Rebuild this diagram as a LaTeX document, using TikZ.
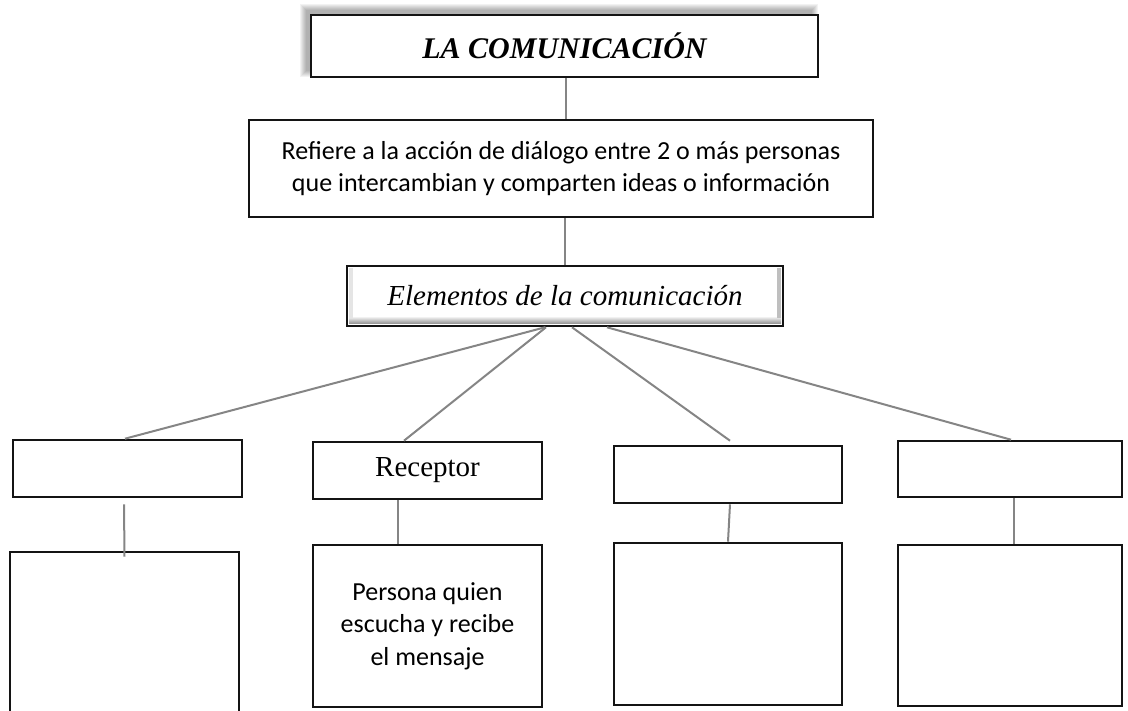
\documentclass[tikz,border=0pt]{standalone}
\usepackage{fontspec}
\setmainfont{Liberation Serif}
\newfontfamily\calfont{Carlito}
\begin{document}
\begin{tikzpicture}[x=1pt,y=-1pt,
    box/.style={draw=black!92, line width=2.6pt, inner sep=0pt, align=center},
    link/.style={draw=black!48, line width=2pt},
    sans/.style={font=\calfont\fontsize{26}{32.5}\selectfont}]
  \useasboundingbox (0,0) rectangle (1128,711);

  % soft shadow behind the title
  \foreach \r in {0,...,6}
    \fill[black, opacity=0.05] (306-\r,10-\r) rectangle (812+\r,71+\r);
  \node[box, fill=white, minimum width=507pt, minimum height=62pt] (title) at (564.5,46)
    {\bfseries\itshape\fontsize{30}{36}\selectfont LA COMUNICACIÓN};

  \node[box, sans, minimum width=624pt, minimum height=97pt] (def) at (561,168.5)
    {Refiere a la acción de diálogo entre 2 o más personas\\que intercambian y comparten ideas o información};

  % bevel of the elements box
  \fill[white] (347,266) rectangle (783,326);
  \shade[top color=white, bottom color=black!45] (349,316) rectangle (781,324);
  \fill[black!10] (349,268) rectangle (353,318);
  \fill[black!25] (777,268) rectangle (781,318);
  \node[box, minimum width=436pt, minimum height=60pt] (elem) at (565,296)
    {\itshape\fontsize{29}{34}\selectfont Elementos de la comunicación};

  % first row
  \node[box, minimum width=229pt, minimum height=57pt] (elemA) at (127.5,468.5) {};
  \node[box, minimum width=229pt, minimum height=57pt] (recv) at (427.5,470.5)
    {\fontsize{29}{34}\selectfont Receptor};
  \node[box, minimum width=228pt, minimum height=57pt] (elemC) at (728,474.5) {};
  \node[box, minimum width=224pt, minimum height=56pt] (elemD) at (1010,469) {};

  % second row
  \node[box, minimum width=229pt, minimum height=188pt] (descA) at (124.5,646) {};
  \node[box, sans, minimum width=229pt, minimum height=162pt] (descB) at (427.5,626)
    {Persona quien\\escucha y recibe\\el mensaje};
  \node[box, minimum width=228pt, minimum height=162pt] (descC) at (728,624) {};
  \node[box, minimum width=224pt, minimum height=161pt] (descD) at (1010,625.5) {};

  \draw[link] ([xshift=1.5pt]title.south) -- ([xshift=1.5pt]title.south |- def.north);
  \draw[link] (def.south -| elem.north) -- (elem.north);

  \draw[link] ([xshift=-20pt]elem.south) -- ([xshift=-2.5pt]elemA.north);
  \draw[link] ([xshift=-19pt]elem.south) -- ([xshift=-23.5pt]recv.north);
  \draw[link] ([xshift=7pt]elem.south) -- ([xshift=2pt,yshift=4pt]elemC.north);
  \draw[link] ([xshift=42pt]elem.south) -- ([xshift=1pt]elemD.north);

  \draw[link] ([xshift=-3.5pt,yshift=-6pt]elemA.south) -- ([yshift=-6pt]descA.north);
  \draw[link] ([xshift=-30pt]recv.south) -- ([xshift=-30pt]descB.north);
  \draw[link] ([xshift=2pt]elemC.south) -- (descC.north);
  \draw[link] ([xshift=4pt]elemD.south) -- ([xshift=4pt]descD.north);
\end{tikzpicture}
\end{document}
